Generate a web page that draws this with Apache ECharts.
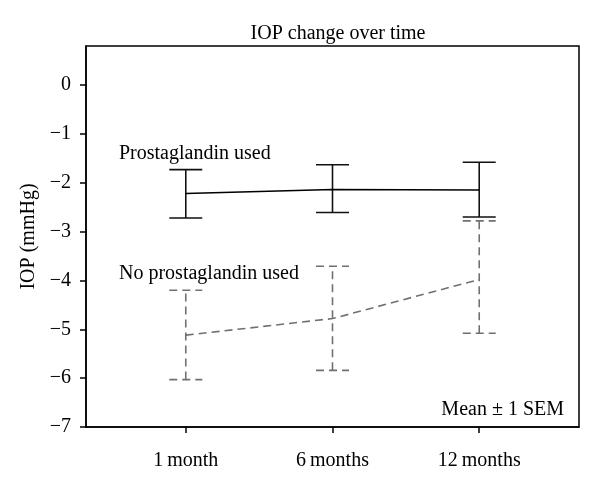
<!DOCTYPE html>
<html><head><meta charset="utf-8">
<script src="https://cdn.jsdelivr.net/npm/echarts@6/dist/echarts.min.js"></script>
<style>html,body{margin:0;padding:0;background:#fff}#c{width:600px;height:481px}</style>
</head><body><div id="c"></div>
<script>
const categories = ['1\u2009month', '6\u2009months', '12\u2009months'];
const catPos = [1, 2, 3];
const protoMean = [-2.22, -2.14, -2.15];
const protoLow = [-2.72, -2.61, -2.70];
const protoHigh = [-1.73, -1.63, -1.58];
const noMean = [-5.12, -4.78, -3.98];
const noLow = [-6.03, -5.84, -5.08];
const noHigh = [-4.20, -3.71, -2.78];
const yTicks = [-7, -6, -5, -4, -3, -2, -1, 0];

const FONT = 'Liberation Serif';
const FS = 20;
const chart = echarts.init(document.getElementById('c'));

function errSeries(low, high, color, dashed) {
  return {
    type: 'custom',
    data: catPos.map((x, i) => [x, low[i], high[i]]),
    renderItem: function (params, api) {
      const x = api.value(0);
      const p1 = api.coord([x, api.value(1)]);
      const p2 = api.coord([x, api.value(2)]);
      const hw = 16.5;
      const style = { stroke: color, lineWidth: 1.6, lineDash: dashed ? [8, 5] : null };
      return {
        type: 'group',
        children: [
          { type: 'line', shape: { x1: p1[0], y1: p1[1], x2: p2[0], y2: p2[1] }, style: style },
          { type: 'line', shape: { x1: p1[0] - hw, y1: p1[1], x2: p1[0] + hw, y2: p1[1] }, style: style },
          { type: 'line', shape: { x1: p2[0] - hw, y1: p2[1], x2: p2[0] + hw, y2: p2[1] }, style: style }
        ]
      };
    },
    z: 3
  };
}

chart.setOption({
  animation: false,
  title: {
    text: 'IOP change over time', left: 333, top: 19, textAlign: 'center',
    textStyle: { fontFamily: FONT, fontSize: FS, fontWeight: 'normal', color: '#000' }
  },
  grid: { left: 86, right: 21, top: 46, bottom: 54, show: true, borderColor: '#000', borderWidth: 1.5, backgroundColor: 'transparent' },
  xAxis: {
    type: 'value', min: 0.32, max: 3.68,
    splitLine: { show: false },
    axisLine: { onZero: false, lineStyle: { color: '#000', width: 1.5 } },
    axisTick: { customValues: catPos, length: 6, lineStyle: { color: '#000', width: 1.5 } },
    axisLabel: {
      customValues: catPos, margin: 24,
      formatter: v => categories[catPos.indexOf(v)] || '',
      fontFamily: FONT, fontSize: FS, color: '#000'
    }
  },
  yAxis: {
    type: 'value', min: -7, max: 0.8,
    name: 'IOP (mmHg)', nameLocation: 'middle', nameGap: 38, nameRotate: 90,
    nameTextStyle: { fontFamily: FONT, fontSize: FS, color: '#000' },
    splitLine: { show: false },
    axisLine: { onZero: false, lineStyle: { color: '#000', width: 1.5 } },
    axisTick: { customValues: yTicks, length: 6, lineStyle: { color: '#000', width: 1.5 } },
    axisLabel: {
      customValues: yTicks, margin: 15,
      formatter: v => (v < 0 ? '\u2212' + Math.abs(v) : String(v)),
      fontFamily: FONT, fontSize: FS, color: '#000'
    }
  },
  graphic: [
    { type: 'text', left: 119, top: 144, style: { text: 'Prostaglandin used', font: FS + 'px "Liberation Serif"', fill: '#000' } },
    { type: 'text', left: 119, top: 264, style: { text: 'No prostaglandin used', font: FS + 'px "Liberation Serif"', fill: '#000' } },
    { type: 'text', right: 36, top: 400, style: { text: 'Mean \u00b1 1 SEM', font: FS + 'px "Liberation Serif"', fill: '#000' } }
  ],
  series: [
    {
      type: 'line', data: catPos.map((x, i) => [x, protoMean[i]]), symbol: 'none',
      lineStyle: { color: '#000', width: 1.5 }, z: 4
    },
    {
      type: 'line', data: catPos.map((x, i) => [x, noMean[i]]), symbol: 'none',
      lineStyle: { color: '#707070', width: 1.6, type: [8, 5] }, z: 4
    },
    errSeries(noLow, noHigh, '#707070', true),
    errSeries(protoLow, protoHigh, '#111', false)
  ]
});
</script></body></html>
